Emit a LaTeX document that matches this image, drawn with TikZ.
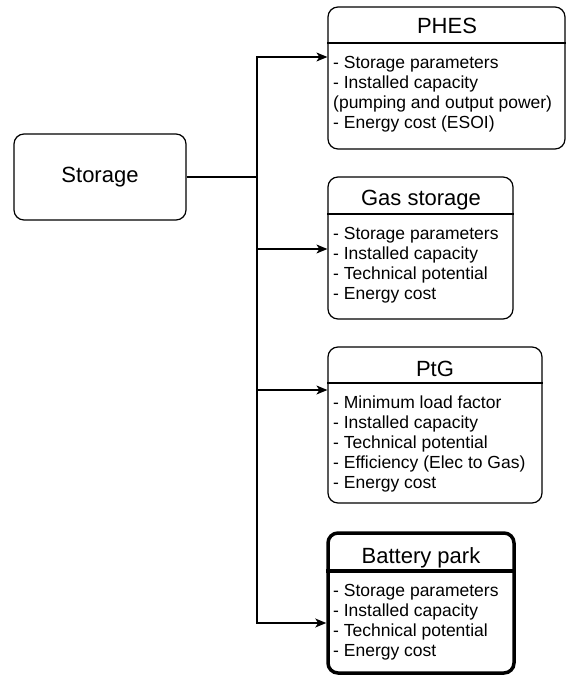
\documentclass[tikz,border=0pt]{standalone}
\usepackage{fontspec}
\setmainfont{Liberation Sans}
\usetikzlibrary{positioning,arrows.meta}

\tikzset{
  card/.style={draw, rounded corners=10pt, line width=1.2pt, inner sep=0pt},
  bigcard/.style={card, line width=3.5pt},
  cardtitle/.style={font=\fontsize{22}{26}\selectfont, anchor=base, inner sep=0pt},
  cardtext/.style={font=\fontsize{17.5}{20}\selectfont, align=left, anchor=north west, inner sep=0pt},
  link/.style={line width=1.2pt},
}

\begin{document}
\begin{tikzpicture}[x=1pt, y=-1pt, >={Stealth[length=11pt,width=9pt,inset=3pt]}]
\useasboundingbox (0,0) rectangle (567,675);

% source
\node[card, minimum width=172pt, minimum height=86pt, font=\fontsize{22}{26}\selectfont] (storage) at (100,177) {Storage};

% PHES
\node[card, minimum width=237pt, minimum height=142pt] (phes) at (446.5,78) {};
\node[cardtitle] (phestitle) at (447,33) {PHES};
\draw[link] (phes.west |- 0,43) -- (phes.east |- 0,43);
\node[cardtext] (phestext) at (333,56) {- Storage parameters\\- Installed capacity\\(pumping and output power)\\- Energy cost (ESOI)};

% gas storage
\node[card, minimum width=185pt, minimum height=142pt] (gas) at (420.5,248) {};
\node[cardtitle] (gastitle) at (421,205) {Gas storage};
\draw[link] (gas.west |- 0,214) -- (gas.east |- 0,214);
\node[cardtext] (gastext) at (333,227) {- Storage parameters\\- Installed capacity\\- Technical potential\\- Energy cost};

% PtG
\node[card, minimum width=214pt, minimum height=156pt] (ptg) at (435,425) {};
\node[cardtitle] (ptgtitle) at (435,376) {PtG};
\draw[link] (ptg.west |- 0,383) -- (ptg.east |- 0,383);
\node[cardtext] (ptgtext) at (333,396) {- Minimum load factor\\- Installed capacity\\- Technical potential\\- Efficiency (Elec to Gas)\\- Energy cost};

% battery park
\node[bigcard, minimum width=186pt, minimum height=140pt] (battery) at (421,603) {};
\node[cardtitle] (batterytitle) at (421,563) {Battery park};
\draw[line width=3.5pt] (battery.west |- 0,571) -- (battery.east |- 0,571);
\node[cardtext] (batterytext) at (333,584) {- Storage parameters\\- Installed capacity\\- Technical potential\\- Energy cost};

% connectors
\coordinate (trunktop) at (257,57);
\coordinate (trunkbot) at (257,623);
\coordinate (jgas) at (257,249);
\coordinate (jptg) at (257,390);
\draw[line width=2.5pt] (storage.east) -- (storage.east -| trunktop);
\draw[link, <->] (trunktop -| phes.west) -- (trunktop) -- (trunkbot) -- (trunkbot -| battery.west);
\draw[link, ->] (jgas) -- (jgas -| gas.west);
\draw[link, ->] (jptg) -- (jptg -| ptg.west);
\end{tikzpicture}
\end{document}
